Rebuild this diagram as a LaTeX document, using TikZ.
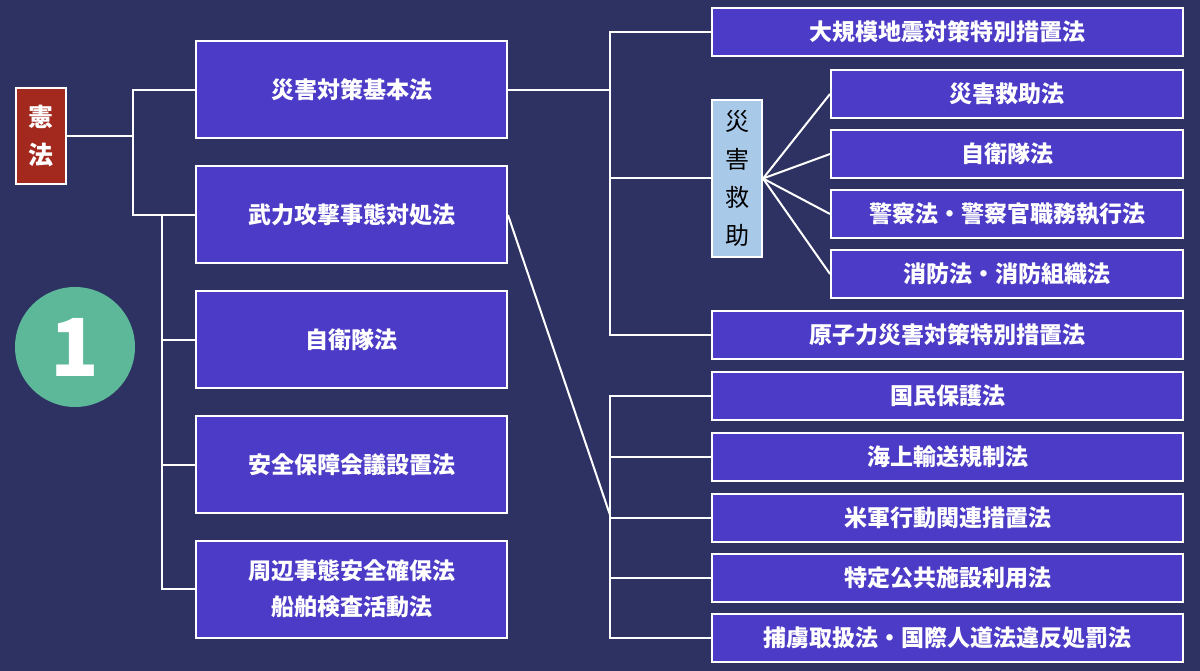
\documentclass[tikz,border=0pt]{standalone}
\usepackage{fontspec}
\setmainfont{Noto Sans CJK JP}
\usetikzlibrary{positioning}
\definecolor{bgnavy}{HTML}{2E3262}
\definecolor{lawblue}{HTML}{4B3BC6}
\definecolor{kenred}{HTML}{A3291F}
\definecolor{aidblue}{HTML}{A9C9E9}
\definecolor{numgreen}{HTML}{5DB89A}
\tikzset{
  law/.style={draw=white, line width=2pt, fill=lawblue, text=white, font=\bfseries\fontsize{23}{36}\selectfont, align=center, inner sep=0pt},
  big/.style={law, minimum width=311pt, minimum height=97pt},
  small/.style={law, minimum width=471pt, minimum height=48pt},
  sub/.style={law, minimum width=352pt, minimum height=48pt},
  link/.style={white, line width=2pt}
}
\begin{document}
\begin{tikzpicture}[x=1pt,y=-1pt]
\fill[bgnavy] (0,0) rectangle (1200,671);
\useasboundingbox (0,0) rectangle (1200,671);
% root
\node[draw=white, line width=2pt, fill=kenred, text=white, minimum width=50pt, minimum height=96pt,
  inner sep=0pt, align=center, font=\bfseries\fontsize{25}{38}\selectfont] (ken) at (41,136) {憲\\法};
\node[circle, fill=numgreen, minimum size=120pt, text=white, font=\bfseries\fontsize{80}{80}\selectfont] (num) at (75,347) {1};
% left column
\node[big] (saigai) at (351.5,90) {災害対策基本法};
\node[big] (buryoku) at (351.5,215) {武力攻撃事態対処法};
\node[big] (jieitai) at (351.5,339.5) {自衛隊法};
\node[big] (anzen) at (351.5,464.5) {安全保障会議設置法};
\node[big] (shuhen) at (351.5,589) {周辺事態安全確保法\\船舶検査活動法};
% right column
\node[small] (daikibo) at (947.5,32) {大規模地震対策特別措置法};
\node[draw=white, line width=2pt, fill=aidblue, text=black, minimum width=50pt, minimum height=157pt,
  inner sep=0pt, align=center, font=\fontsize{24}{38}\selectfont] (kyujo) at (737,178.5) {災\\害\\救\\助};
\node[sub] (kyujoho) at (1007,94) {災害救助法};
\node[sub] (jieitai2) at (1007,154) {自衛隊法};
\node[sub] (keisatsu) at (1007,214) {警察法・警察官職務執行法};
\node[sub] (shobo) at (1007,274) {消防法・消防組織法};
\node[small] (genshi) at (947.5,335) {原子力災害対策特別措置法};
\node[small] (kokumin) at (947.5,396) {国民保護法};
\node[small] (kaijo) at (947.5,456.5) {海上輸送規制法};
\node[small] (beigun) at (947.5,517.5) {米軍行動関連措置法};
\node[small] (tokutei) at (947.5,578) {特定公共施設利用法};
\node[small] (horyo) at (947.5,638) {捕虜取扱法・国際人道法違反処罰法};
% connectors
\coordinate (j1) at (133,136);
\coordinate (v1) at (162,215);
\coordinate (v2) at (610,90);
\coordinate (j2) at (610,515);
\draw[link] (ken) -- (j1);
\draw[link] (saigai.west) -| (j1) |- (buryoku.west);
\draw[link] (v1) |- (shuhen.west);
\foreach \n in {jieitai,anzen} \draw[link] (\n.west -| v1) -- (\n.west);
\draw[link] (saigai.east) -- (v2);
\draw[link] (daikibo.west) -| (genshi.west -| v2) -- (genshi.west);
\draw[link] (kyujo.west -| v2) -- (kyujo.west);
\foreach \n in {kyujoho,jieitai2,keisatsu,shobo} \draw[link] (kyujo.east) -- (\n.west);
\draw[link] (buryoku.east) -- (j2);
\draw[link] (kokumin.west) -| (horyo.west -| j2) -- (horyo.west);
\foreach \n in {kaijo,beigun,tokutei} \draw[link] (\n.west -| j2) -- (\n.west);
\end{tikzpicture}
\end{document}
